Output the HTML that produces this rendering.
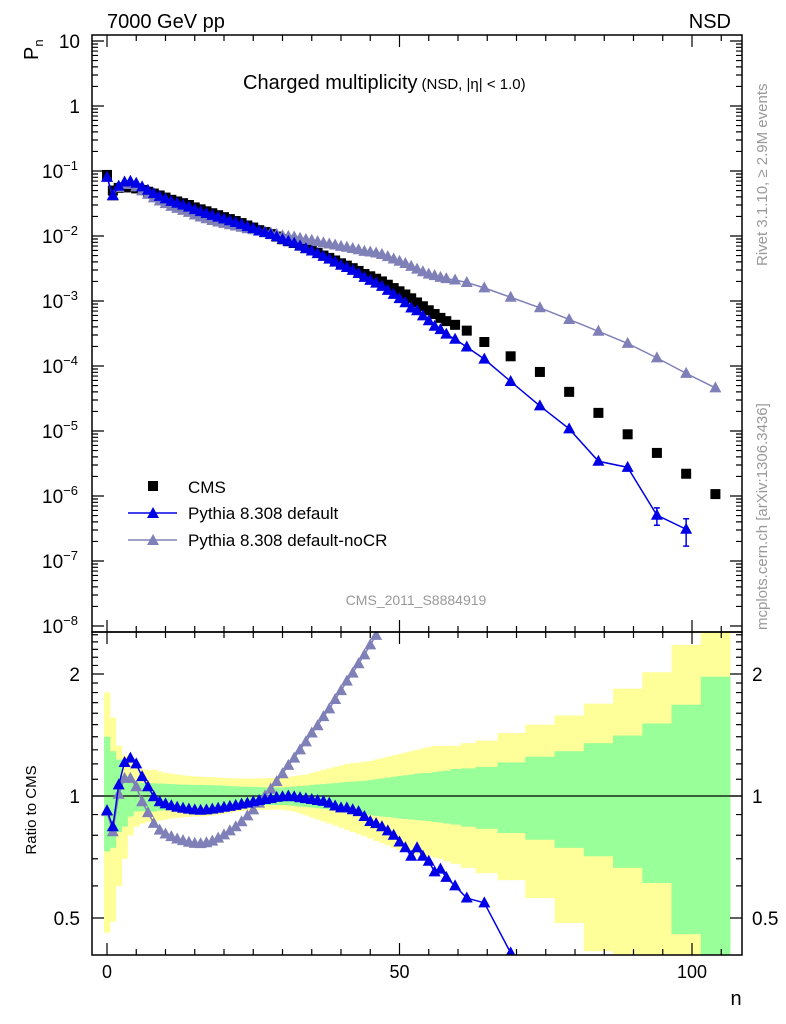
<!DOCTYPE html>
<html><head><meta charset="utf-8"><style>
html,body{margin:0;padding:0;background:#fff;width:786px;height:1024px;overflow:hidden;}
svg{display:block;font-family:"Liberation Sans",sans-serif;}
</style></head><body>
<svg id="chart" width="786" height="1024" viewBox="0 0 786 1024" xmlns="http://www.w3.org/2000/svg">
<g id="bands"></g>
<g id="upper"></g>
<g id="lower"></g>
<g id="axes"></g>
<text x="107" y="28" font-size="20">7000 GeV pp</text>
<text x="731" y="28" font-size="20" text-anchor="end">NSD</text>
<text x="243" y="89" font-size="20">Charged multiplicity<tspan font-size="15" dx="4">(NSD, |η| &lt; 1.0)</tspan></text>
<text transform="translate(38,60) rotate(-90)" font-size="20">P<tspan font-size="13" dy="5">n</tspan></text>
<text transform="translate(36,810) rotate(-90)" font-size="15" text-anchor="middle">Ratio to CMS</text>
<text x="736" y="1005" font-size="20" text-anchor="middle">n</text>
<text transform="translate(767,266) rotate(-90)" font-size="15" fill="#999">Rivet 3.1.10, ≥ 2.9M events</text>
<text transform="translate(767,630) rotate(-90)" font-size="15" fill="#999">mcplots.cern.ch [arXiv:1306.3436]</text>
<text x="416" y="605" font-size="14" fill="#999" text-anchor="middle">CMS_2011_S8884919</text>
<g>
  <rect x="148" y="481" width="10" height="10" fill="#000"/>
  <text x="188" y="493" font-size="17">CMS</text>
  <line x1="128" y1="513" x2="177" y2="513" stroke="#0000e6" stroke-width="1.5"/>
  <path d="M147,518 L159,518 L153,507 Z" fill="#0000e6"/>
  <text x="188" y="519" font-size="17">Pythia 8.308 default</text>
  <line x1="128" y1="540" x2="177" y2="540" stroke="#8080b8" stroke-width="1.5"/>
  <path d="M147,545 L159,545 L153,534 Z" fill="#8080b8"/>
  <text x="188" y="546" font-size="17">Pythia 8.308 default-noCR</text>
</g>
</svg>
<script>
const nVals=[0,1,2,3,4,5,6,7,8,9,10,11,12,13,14,15,16,17,18,19,20,21,22,23,24,25,26,27,28,29,30,31,32,33,34,35,36,37,38,39,40,41,42,43,44,45,46,47,48,49,50,51,52,53,54,55,56,57,58,59.5,61.5,64.5,69,74,79,84,89,94,99,104];
const cmsVals=[0.087,0.050,0.055,0.056,0.056,0.054,0.051,0.048,0.045,0.042,0.039,0.036,0.034,0.032,0.030,0.0275,0.0257,0.024,0.0224,0.0209,0.0195,0.0182,0.017,0.0158,0.0145,0.0135,0.0123,0.0115,0.0107,0.0098,0.0089,0.0083,0.0078,0.0071,0.0065,0.006,0.0055,0.005,0.0046,0.0042,0.0038,0.0035,0.0032,0.0029,0.0026,0.0024,0.0022,0.002,0.00178,0.00158,0.00141,0.00126,0.0011,0.00095,0.00083,0.00072,0.00063,0.00055,0.00049,0.00043,0.00035,0.000234,0.000141,8.1e-5,4.0e-5,1.9e-5,8.9e-6,4.6e-6,2.2e-6,1.07e-6];
const ratioDefault=[0.92,0.84,1.065,1.21,1.24,1.20,1.116,1.054,0.996,0.968,0.956,0.946,0.938,0.933,0.928,0.924,0.922,0.924,0.928,0.933,0.938,0.943,0.948,0.955,0.96,0.968,0.975,0.98,0.985,0.992,0.996,1.0,0.996,0.99,0.985,0.98,0.975,0.97,0.96,0.945,0.935,0.935,0.925,0.915,0.89,0.865,0.855,0.84,0.82,0.8,0.77,0.745,0.71,0.745,0.71,0.69,0.65,0.66,0.63,0.6,0.56,0.545,0.41,0.3,0.27,0.18,0.31,0.11,0.14,null];
const ratioNoCR=[0.915,0.816,1.01,1.105,1.105,1.054,0.968,0.91,0.856,0.824,0.806,0.794,0.783,0.776,0.769,0.764,0.763,0.767,0.774,0.787,0.802,0.82,0.84,0.864,0.893,0.924,0.96,1.0,1.04,1.085,1.135,1.19,1.24,1.30,1.36,1.43,1.49,1.57,1.64,1.73,1.82,1.92,2.01,2.12,2.23,2.36,2.49,2.6,2.7,2.8,2.9,3.0,3.1,3.25,3.4,3.6,3.9,4.2,4.5,4.9,5.5,6.8,8.1,9.7,13,18,25,29,35,43];
const yellowHi=[1.8,1.56,1.33,1.26,1.21,1.17,1.165,1.16,1.16,1.15,1.14,1.135,1.13,1.125,1.12,1.118,1.116,1.114,1.112,1.11,1.108,1.106,1.105,1.104,1.104,1.104,1.105,1.106,1.108,1.11,1.11,1.115,1.12,1.125,1.13,1.14,1.15,1.16,1.17,1.18,1.19,1.2,1.205,1.21,1.215,1.22,1.23,1.24,1.25,1.26,1.27,1.28,1.29,1.3,1.31,1.32,1.33,1.33,1.33,1.33,1.35,1.37,1.43,1.50,1.58,1.69,1.84,2.02,2.36,3.0];
const yellowLo=[0.46,0.49,0.60,0.70,0.80,0.84,0.855,0.864,0.864,0.87,0.875,0.88,0.883,0.886,0.888,0.89,0.89,0.892,0.895,0.9,0.905,0.91,0.915,0.918,0.92,0.922,0.924,0.925,0.925,0.925,0.925,0.92,0.915,0.905,0.895,0.885,0.875,0.865,0.855,0.845,0.835,0.825,0.815,0.805,0.795,0.785,0.775,0.765,0.755,0.745,0.735,0.73,0.725,0.72,0.715,0.71,0.705,0.70,0.69,0.68,0.665,0.645,0.62,0.56,0.486,0.414,0.3,0.3,0.3,0.3];
const greenHi=[1.40,1.29,1.23,1.12,1.09,1.08,1.078,1.076,1.075,1.073,1.072,1.07,1.068,1.067,1.066,1.065,1.065,1.064,1.063,1.062,1.06,1.058,1.056,1.055,1.054,1.053,1.052,1.05,1.05,1.05,1.05,1.052,1.055,1.058,1.06,1.065,1.068,1.07,1.073,1.076,1.08,1.083,1.085,1.088,1.09,1.095,1.1,1.105,1.11,1.115,1.12,1.125,1.13,1.135,1.14,1.14,1.145,1.15,1.155,1.165,1.17,1.18,1.21,1.25,1.29,1.35,1.41,1.51,1.68,1.97];
const greenLo=[0.73,0.745,0.815,0.84,0.89,0.915,0.918,0.918,0.915,0.92,0.922,0.925,0.928,0.93,0.932,0.934,0.935,0.936,0.938,0.94,0.942,0.944,0.945,0.946,0.947,0.948,0.949,0.95,0.95,0.95,0.95,0.948,0.945,0.942,0.94,0.937,0.933,0.93,0.926,0.922,0.918,0.914,0.91,0.905,0.9,0.897,0.893,0.89,0.887,0.884,0.88,0.877,0.875,0.872,0.87,0.867,0.863,0.86,0.855,0.85,0.84,0.83,0.81,0.78,0.745,0.71,0.665,0.61,0.456,0.3];
const errDefault=[null,null,null,null,null,null,null,null,null,null,null,null,null,null,null,null,null,null,null,null,null,null,null,null,null,null,null,null,null,null,null,null,null,null,null,null,null,null,null,null,null,null,null,null,null,null,null,null,null,null,null,null,null,null,null,null,null,null,null,null,null,null,null,null,null,null,null,0.3,0.45,null];
const xTicksMajor=[0,50,100];
const yDecades=[1,0,-1,-2,-3,-4,-5,-6,-7,-8];
const ratioTickLabels=[0.5,1,2];

const NS="http://www.w3.org/2000/svg";
const L=92,R=742,T=35,MID=632,B=955;
const X=n=>107+(n)*5.85;
const YL=v=>41+65*(1-Math.log10(v));
const YR=r=>796-122*Math.log2(r);
const DEF="#0000e6",NOCR="#8080b8";
function mk(tag,attrs,parent){const e=document.createElementNS(NS,tag);for(const k in attrs)e.setAttribute(k,attrs[k]);parent.appendChild(e);return e;}
const gB=document.getElementById('bands'),gU=document.getElementById('upper'),gL=document.getElementById('lower'),gA=document.getElementById('axes');

const defs=mk('defs',{},document.getElementById('chart'));
const c1=mk('clipPath',{id:'cu'},defs);mk('rect',{x:L,y:T,width:R-L,height:MID-T},c1);
const c2=mk('clipPath',{id:'cl'},defs);mk('rect',{x:L,y:MID,width:R-L,height:B-MID},c2);
gB.setAttribute('clip-path','url(#cl)');gL.setAttribute('clip-path','url(#cl)');gU.setAttribute('clip-path','url(#cu)');

const edges=[];
for(let i=0;i<nVals.length;i++){
  const lo=i===0?nVals[0]-0.5:(nVals[i-1]+nVals[i])/2;
  const hi=i===nVals.length-1?nVals[i]+(nVals[i]-nVals[i-1])/2:(nVals[i]+nVals[i+1])/2;
  edges.push([lo,hi]);
}
for(let i=0;i<nVals.length;i++){
  const x0=X(edges[i][0]),x1=X(edges[i][1]);
  const y=mk('rect',{x:x0,y:YR(yellowHi[i]),width:x1-x0+0.4,height:YR(yellowLo[i])-YR(yellowHi[i]),fill:'#ffff99'},gB);
  
  
}
for(let i=0;i<nVals.length;i++){
  const x0=X(edges[i][0]),x1=X(edges[i][1]);
  const g=mk('rect',{x:x0,y:YR(greenHi[i]),width:x1-x0+0.4,height:YR(greenLo[i])-YR(greenHi[i]),fill:'#99ff99'},gB);
  
  
}
mk('line',{x1:L,y1:YR(1),x2:R,y2:YR(1),stroke:'#000','stroke-width':1.2},gB);

function tri(g,x,y,col,name){
  const p=mk('path',{d:`M${x-6},${y+4.5} L${x+6},${y+4.5} L${x},${y-6.5} Z`,fill:col},g);
  
  
}
function series(ratios,col,name){
  let ptsU=[],ptsL=[];
  for(let i=0;i<nVals.length;i++){
    if(ratios[i]==null)continue;
    ptsU.push([X(nVals[i]),YL(cmsVals[i]*ratios[i])]);
    ptsL.push([X(nVals[i]),YR(ratios[i])]);
  }
  const lu=mk('polyline',{points:ptsU.map(p=>p.join(',')).join(' '),fill:'none',stroke:col,'stroke-width':1.5},gU);
  
  
  const ll=mk('polyline',{points:ptsL.map(p=>p.join(',')).join(' '),fill:'none',stroke:col,'stroke-width':1.5},gL);
  
  
  ptsU.forEach(p=>tri(gU,p[0],p[1],col,name+'-point'));
  ptsL.forEach(p=>tri(gL,p[0],p[1],col,name+'-ratio-point'));
}
for(let i=0;i<nVals.length;i++){
  const r=mk('rect',{x:X(nVals[i])-5,y:YL(cmsVals[i])-5,width:10,height:10,fill:'#000'},gU);
  
  
}
series(ratioNoCR,NOCR,'pythia-nocr');
series(ratioDefault,DEF,'pythia-default');
for(let i=0;i<nVals.length;i++){
  if(errDefault[i]==null||ratioDefault[i]==null)continue;
  const v=cmsVals[i]*ratioDefault[i],x=X(nVals[i]);
  const e=mk('path',{d:`M${x},${YL(v*(1+errDefault[i]))} V${YL(v*(1-errDefault[i]))} M${x-3},${YL(v*(1+errDefault[i]))} h6 M${x-3},${YL(v*(1-errDefault[i]))} h6`,stroke:DEF,'stroke-width':1.5,fill:'none'},gU);
  
  
}

mk('rect',{x:L,y:T,width:R-L,height:MID-T,fill:'none',stroke:'#000','stroke-width':1.5},gA);
mk('rect',{x:L,y:MID,width:R-L,height:B-MID,fill:'none',stroke:'#000','stroke-width':1.5},gA);
let d='';
for(let n=0;n<=105;n+=5){
  const x=X(n),len=(n%50===0)?12:6;
  d+=`M${x},${B} v${-len} M${x},${MID} v${len} M${x},${MID} v${-len} M${x},${T} v${len} `;
}
for(const dec of yDecades){
  const y=YL(Math.pow(10,dec));
  d+=`M${L},${y} h12 M${R},${y} h-12 `;
  if(dec>-8){for(let m=2;m<=9;m++){const yy=YL(m*Math.pow(10,dec-1));if(yy>T&&yy<MID)d+=`M${L},${yy} h6 M${R},${yy} h-6 `;}}
}
for(let r=0.4;r<=2.55;r+=0.1){
  const y=YR(r);if(y<MID||y>B)continue;
  const major=ratioTickLabels.some(t=>Math.abs(t-r)<1e-6);
  const len=major?12:6;
  d+=`M${L},${y} h${len} M${R},${y} h${-len} `;
}
mk('path',{d:d,stroke:'#000','stroke-width':1.2,fill:'none'},gA);

xTicksMajor.forEach(n=>{
  const t=mk('text',{x:X(n),y:978,'font-size':18,'text-anchor':'middle'},gA);t.textContent=n;
  
  
});
yDecades.forEach(dec=>{
  const y=YL(Math.pow(10,dec));
  const t=mk('text',{x:80,y:y+7,'font-size':19,'text-anchor':'end'},gA);
  
  
  if(dec===1)t.textContent='10';else if(dec===0)t.textContent='1';
  else{t.textContent='10';const s=mk('tspan',{'font-size':13,dy:-8},t);s.textContent=String(dec).replace('-','−');}
  if(dec<0){t.setAttribute('x',42);t.setAttribute('text-anchor','start');}
});
ratioTickLabels.forEach(r=>{
  const y=YR(r);
  const a=mk('text',{x:80,y:y+7,'font-size':19,'text-anchor':'end'},gA);a.textContent=r;
  
  
  const b=mk('text',{x:752,y:y+7,'font-size':19},gA);b.textContent=r;
  
  
});
</script>
</body></html>
